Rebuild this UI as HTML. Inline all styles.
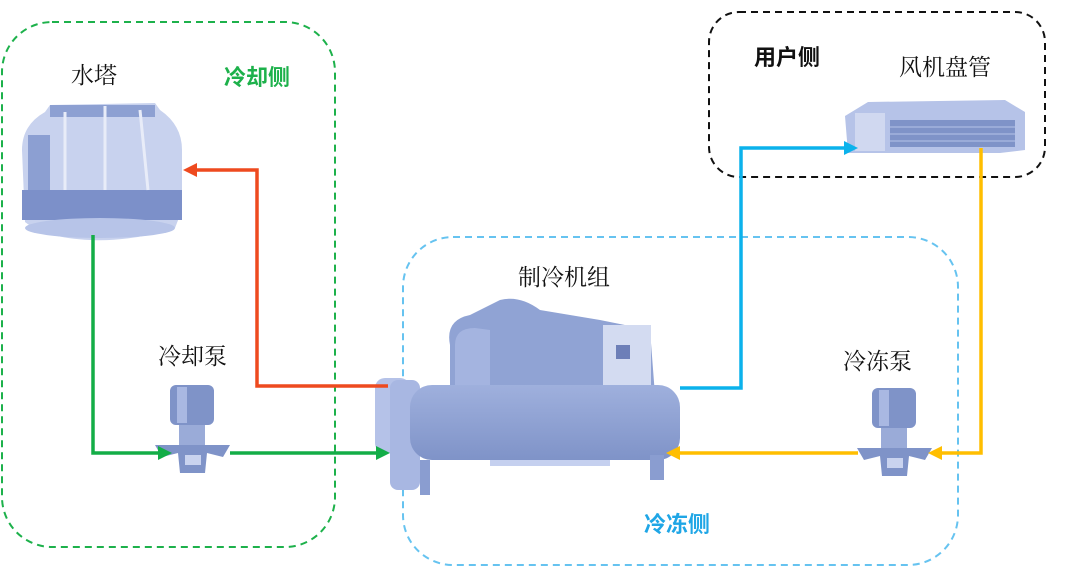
<!DOCTYPE html>
<html><head><meta charset="utf-8"><style>
html,body{margin:0;padding:0;background:#fff;width:1081px;height:569px;overflow:hidden}
text{font-family:"Liberation Serif","Noto Serif CJK SC",serif;font-size:23px}
text.b{font-family:"Liberation Sans","Noto Sans CJK SC",sans-serif;font-size:22px;font-weight:bold}
</style></head><body>
<svg width="1081" height="569" viewBox="0 0 1081 569">
<defs>
<linearGradient id="eq" x1="0" y1="0" x2="0" y2="1"><stop offset="0" stop-color="#9fb0dd"/><stop offset="1" stop-color="#7f93c8"/></linearGradient>
<g id="pump">
<rect x="15" y="0" width="44" height="40" rx="6" fill="#7f93c8"/>
<rect x="22" y="2" width="10" height="36" fill="#a9b8e2"/>
<rect x="24" y="40" width="26" height="20" fill="#9aabd8"/>
<polygon points="0,60 75,60 68,72 52,68 50,88 25,88 23,68 7,72" fill="#7f93c8"/>
<rect x="30" y="70" width="16" height="10" fill="#c9d3ef"/>
</g>
</defs>
<rect x="2" y="22" width="333" height="525" rx="50" fill="none" stroke="#1db14b" stroke-width="2" stroke-dasharray="7,5"/>
<rect x="403" y="237" width="555" height="328" rx="50" fill="none" stroke="#66c3f0" stroke-width="2" stroke-dasharray="7,5"/>
<rect x="709" y="12" width="336" height="165" rx="30" fill="none" stroke="#111" stroke-width="2" stroke-dasharray="7,5"/>

<g>
<path d="M50,105 L155,103 L160,110 Q182,125 182,150 L182,210 L175,228 Q130,242 90,240 Q45,238 25,222 L22,150 Q22,125 45,112 Z" fill="#c8d2ee"/>
<rect x="22" y="190" width="160" height="30" fill="#7c90c9"/>
<rect x="50" y="105" width="105" height="12" fill="#8da0d2"/>
<rect x="28" y="135" width="22" height="55" fill="#8c9fd2"/>
<line x1="105" y1="106" x2="105" y2="190" stroke="#e8ecf8" stroke-width="3"/>
<line x1="65" y1="112" x2="65" y2="190" stroke="#e8ecf8" stroke-width="3"/>
<line x1="140" y1="110" x2="148" y2="190" stroke="#e8ecf8" stroke-width="3"/>
<ellipse cx="100" cy="228" rx="75" ry="10" fill="#b7c4e8"/>
</g>

<g>
<path d="M450,345 Q445,320 470,315 L500,300 Q520,295 540,310 L600,320 L650,330 L655,395 L450,395 Z" fill="#90a3d4"/>
<path d="M455,395 L455,345 Q455,328 475,328 L490,330 L490,395 Z" fill="#a4b4e0"/>
<rect x="603" y="325" width="48" height="60" fill="#d3dbf1"/>
<rect x="616" y="345" width="14" height="14" fill="#6d7fb8"/>
<rect x="375" y="378" width="35" height="75" rx="10" fill="#b5c2e8"/>
<rect x="390" y="380" width="30" height="110" rx="8" fill="#a8b7e2"/>
<rect x="410" y="385" width="270" height="75" rx="22" fill="url(#eq)"/>
<rect x="420" y="460" width="10" height="35" fill="#8a9dd0"/>
<rect x="650" y="455" width="14" height="25" fill="#8a9dd0"/>
<rect x="490" y="460" width="120" height="6" fill="#c5d0ef"/>
</g>

<g>
<polygon points="868,102 1005,100 1025,112 1025,150 1000,153 848,153 845,116" fill="#b6c3e8"/>
<rect x="890" y="120" width="125" height="27" fill="#7f93c8"/>
<line x1="890" y1="127" x2="1015" y2="127" stroke="#b6c3e8"/>
<line x1="890" y1="134" x2="1015" y2="134" stroke="#b6c3e8"/>
<line x1="890" y1="141" x2="1015" y2="141" stroke="#b6c3e8"/>
<rect x="855" y="113" width="30" height="38" fill="#d0d8f0"/>
</g>

<use href="#pump" x="155" y="385"/>
<use href="#pump" x="857" y="388"/>

<g fill="none" stroke-width="3.5">
<polyline points="388,386 257,386 257,170 195,170" stroke="#ee4a1f"/>
<polyline points="93,235 93,453 160,453" stroke="#13ad47"/>
<polyline points="230,453 378,453" stroke="#13ad47"/>
<polyline points="680,388 741,388 741,148 846,148" stroke="#0bb2ec"/>
<polyline points="981,148 981,453 940,453" stroke="#ffbe00"/>
<polyline points="858,453 678,453" stroke="#ffbe00"/>
</g>
<polygon points="183,170 197,163 197,177" fill="#ee4a1f"/>
<polygon points="172,453 158,446 158,460" fill="#13ad47"/>
<polygon points="390,453 376,446 376,460" fill="#13ad47"/>
<polygon points="858,148 844,141 844,155" fill="#0bb2ec"/>
<polygon points="928,453 942,446 942,460" fill="#ffbe00"/>
<polygon points="666,453 680,446 680,460" fill="#ffbe00"/>

<text x="71" y="83" fill="#111">水塔</text>
<text class="b" x="224" y="85" fill="#1db14b">冷却侧</text>
<text x="158" y="364" fill="#111">冷却泵</text>
<text x="518" y="285" fill="#111">制冷机组</text>
<text x="843" y="369" fill="#111">冷冻泵</text>
<text class="b" x="644" y="532" fill="#1fa6e6">冷冻侧</text>
<text class="b" x="754" y="65" fill="#111">用户侧</text>
<text x="899" y="75" fill="#111">风机盘管</text>
</svg>
</body></html>
